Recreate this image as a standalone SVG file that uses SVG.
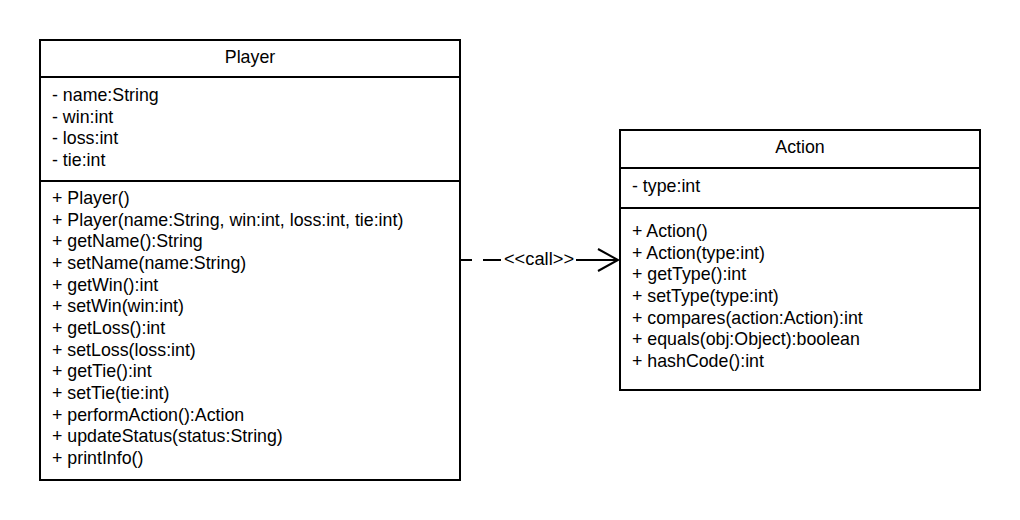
<svg xmlns="http://www.w3.org/2000/svg" width="1020" height="520" viewBox="0 0 1020 520">
<style>
.box{fill:#fff;stroke:#000;stroke-width:2}
.sep{stroke:#000;stroke-width:2;fill:none}
text{font-family:"Liberation Sans",Arial,sans-serif;font-size:17.8px;fill:#000}
.title{text-anchor:middle}
.lbl{font-size:18.3px;text-anchor:middle}
.conn{stroke:#000;stroke-width:2;fill:none}
</style>
<rect width="1020" height="520" fill="#fff"/>
<g id="connectors">
<path class="conn" d="M460 260H472M483 260H501M576 260H618"/>
<path class="conn" d="M598 249L618 260L598 271"/>
<text class="lbl" x="539" y="265">&lt;&lt;call&gt;&gt;</text>
</g>
<g id="Player">
<rect class="box" x="40" y="40" width="420" height="440"/>
<path class="sep" d="M40 77H460M40 181H460"/>
<text class="title" x="250" y="63">Player</text>
<text x="52" y="101">- name:String</text>
<text x="52" y="122.7">- win:int</text>
<text x="52" y="144.3">- loss:int</text>
<text x="52" y="166">- tie:int</text>
<text x="52" y="204">+ Player()</text>
<text x="52" y="225.7">+ Player(name:String, win:int, loss:int, tie:int)</text>
<text x="52" y="247.3">+ getName():String</text>
<text x="52" y="269">+ setName(name:String)</text>
<text x="52" y="290.7">+ getWin():int</text>
<text x="52" y="312.3">+ setWin(win:int)</text>
<text x="52" y="334">+ getLoss():int</text>
<text x="52" y="355.7">+ setLoss(loss:int)</text>
<text x="52" y="377.3">+ getTie():int</text>
<text x="52" y="399">+ setTie(tie:int)</text>
<text x="52" y="420.7">+ performAction():Action</text>
<text x="52" y="442.3">+ updateStatus(status:String)</text>
<text x="52" y="464">+ printInfo()</text>
</g>
<g id="Action">
<rect class="box" x="620" y="130" width="360" height="260"/>
<path class="sep" d="M620 168H980M620 208H980"/>
<text class="title" x="800" y="153">Action</text>
<text x="632" y="192">- type:int</text>
<text x="632" y="237">+ Action()</text>
<text x="632" y="258.7">+ Action(type:int)</text>
<text x="632" y="280.3">+ getType():int</text>
<text x="632" y="302">+ setType(type:int)</text>
<text x="632" y="323.7">+ compares(action:Action):int</text>
<text x="632" y="345.3">+ equals(obj:Object):boolean</text>
<text x="632" y="367">+ hashCode():int</text>
</g>
</svg>
